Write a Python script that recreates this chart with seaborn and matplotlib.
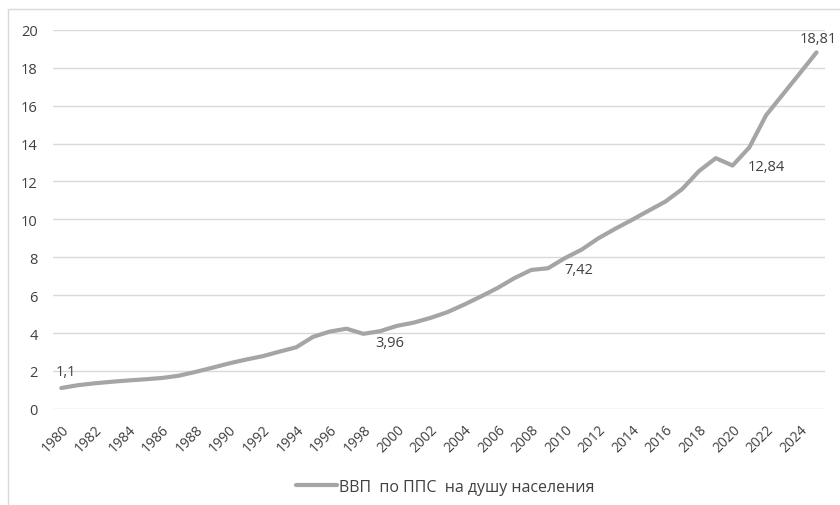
# GDP per capita (PPP) line chart

import pandas as pd
import seaborn as sns
import matplotlib.pyplot as plt
from matplotlib.patches import Rectangle

years = list(range(1980, 2026))
gdp_ppp = [1.1, 1.25, 1.35, 1.43, 1.5, 1.56, 1.63, 1.75, 1.95, 2.17,
           2.4, 2.6, 2.78, 3.02, 3.25, 3.8, 4.08, 4.23, 3.96, 4.1,
           4.38, 4.55, 4.8, 5.1, 5.5, 5.93, 6.38, 6.9, 7.33, 7.42,
           7.95, 8.4, 9.0, 9.5, 9.97, 10.46, 10.94, 11.6, 12.55, 13.23,
           12.84, 13.8, 15.5, 16.6, 17.7, 18.81]
tick_years = list(range(1980, 2025, 2))
labelled_years = [1980, 1998, 2009, 2020, 2025]
series_name = 'ВВП  по ППС  на душу населения'

data = pd.DataFrame({'year': years, 'value': gdp_ppp})

sns.set_theme(style='white')
plt.rcParams['font.family'] = ['Open Sans', 'DejaVu Sans']
text_color = '#404040'

fig = plt.figure(figsize=(8.4, 5.06), dpi=100)
ax = fig.add_axes([0.063, 0.19, 0.919, 0.749])

# frame around the chart area, cut by the image edges
fig.patches.append(Rectangle((8 / 840, -0.1), 1.2, 1 - 10 / 506 + 0.1, transform=fig.transFigure,
                             fill=False, edgecolor='#d9d9d9', linewidth=1))

sns.lineplot(data=data, x='year', y='value', color='#a5a5a5', linewidth=3, ax=ax,
             label=series_name, legend=False)

ax.set_xlim(1979.5, 2025.5)
ax.set_ylim(0, 20)
ax.set_yticks(range(0, 21, 2))
ax.set_xticks(tick_years)
ax.set_xticklabels([str(y) for y in tick_years], rotation=45, ha='right',
                   rotation_mode='anchor', fontsize=10, color=text_color)
ax.tick_params(axis='y', labelsize=10.5, labelcolor=text_color, length=0, pad=11)
ax.tick_params(axis='x', length=0, pad=9)
ax.grid(axis='y', color='#d9d9d9', linewidth=1)
for side in ax.spines.values():
    side.set_visible(False)
ax.set_xlabel('')
ax.set_ylabel('')

# data labels (offsets in points from the data point)
offsets = {1980: (-4, 12), 1998: (8.5, -6.5), 2009: (12, -1),
           2020: (11, -1), 2025: (-12, 10)}
for y in labelled_years:
    v = gdp_ppp[years.index(y)]
    dx, dy = offsets[y]
    ax.annotate(str(v).replace('.', ','), xy=(y, v), xytext=(dx, dy), textcoords='offset points',
                ha='left', va='center', fontsize=10.5, color=text_color, annotation_clip=False)

handles, labels = ax.get_legend_handles_labels()
fig.legend(handles, labels, loc='center', bbox_to_anchor=(0.53, 0.036), frameon=False,
           fontsize=11.5, labelcolor=text_color, handlelength=2.6, handletextpad=0.1)

plt.savefig('out.png', dpi=100)
